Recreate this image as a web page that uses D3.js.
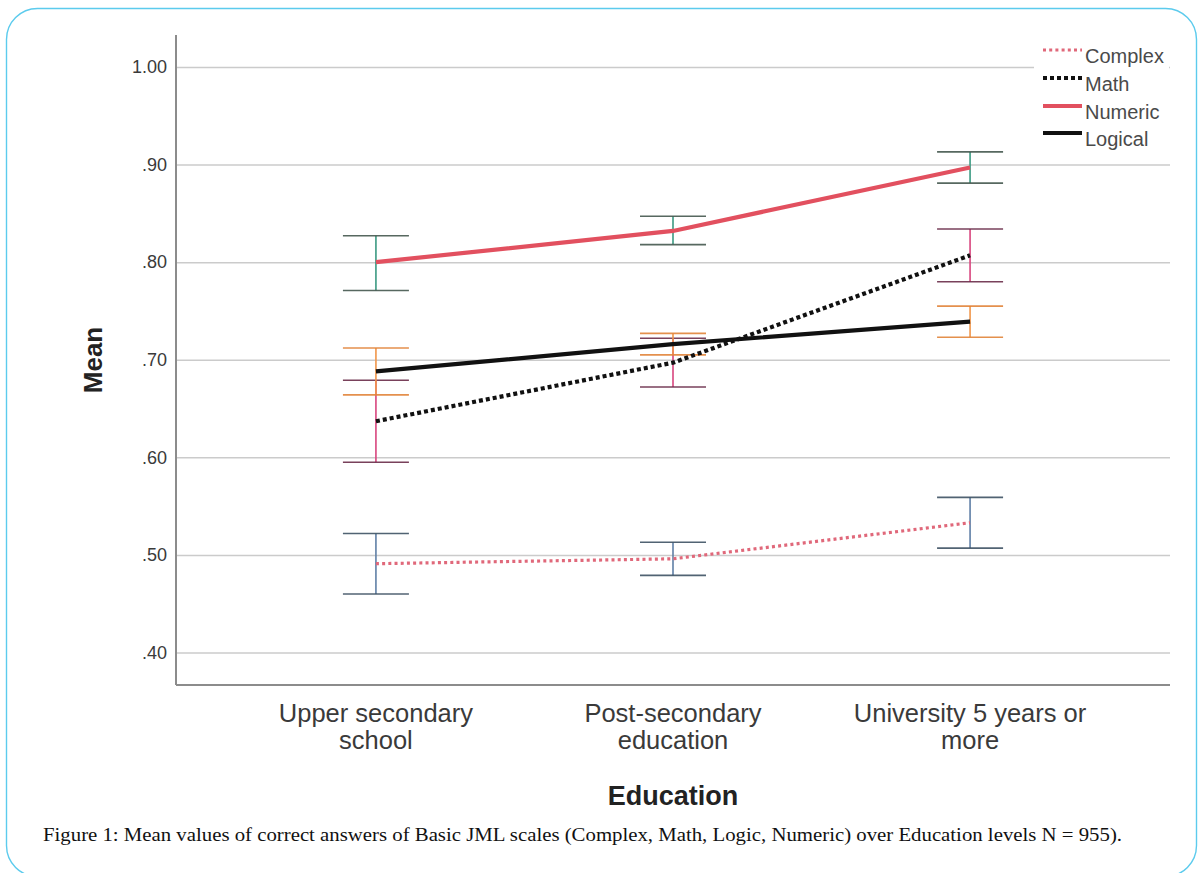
<!DOCTYPE html>
<html>
<head>
<meta charset="utf-8">
<script src="https://cdn.jsdelivr.net/npm/d3@7"></script>
<style>
  html, body { margin: 0; padding: 0; background: #fff; }
  svg { display: block; }
</style>
</head>
<body>
<svg id="chart" width="1201" height="873"></svg>
<script>
// Education levels on the x axis
const categories = [
  ["Upper secondary", "school"],
  ["Post-secondary", "education"],
  ["University 5 years or", "more"]
];
const categoryKeys = ["upper", "post", "univ"];

// Series means and 95% CI bounds, one value per education level
const complexMean = [0.491, 0.496, 0.533];
const complexLow  = [0.460, 0.479, 0.507];
const complexHigh = [0.522, 0.513, 0.559];

const mathMean = [0.637, 0.697, 0.807];
const mathLow  = [0.595, 0.672, 0.780];
const mathHigh = [0.679, 0.722, 0.834];

const numericMean = [0.800, 0.832, 0.897];
const numericLow  = [0.771, 0.818, 0.881];
const numericHigh = [0.827, 0.847, 0.913];

const logicalMean = [0.688, 0.716, 0.739];
const logicalLow  = [0.664, 0.705, 0.723];
const logicalHigh = [0.712, 0.727, 0.755];

const seriesNames = ["Complex", "Math", "Numeric", "Logical"];

const yTicks = [0.4, 0.5, 0.6, 0.7, 0.8, 0.9, 1.0];
const yTickLabels = [".40", ".50", ".60", ".70", ".80", ".90", "1.00"];

const captionText = "Figure 1: Mean values of correct answers of Basic JML scales (Complex, Math, Logic, Numeric) over Education levels N = 955).";

// ---- styling per series ----
const styles = {
  Complex: { stroke: "#e0687a", width: 3.2, dash: "3,3.2", cap: "butt",
             err: "#5f7fa6", errCap: "#3f5364" },
  Math:    { stroke: "#111", width: 4.2, dash: "4,3", cap: "butt",
             err: "#d8457e", errCap: "#6b2d4a" },
  Numeric: { stroke: "#e2505f", width: 4.2, dash: null, cap: "butt",
             err: "#3b9a82", errCap: "#45584f" },
  Logical: { stroke: "#111", width: 4.2, dash: null, cap: "butt",
             err: "#f0964a", errCap: "#e2843a" }
};

const series = [
  { name: "Complex", mean: complexMean, low: complexLow, high: complexHigh },
  { name: "Math",    mean: mathMean,    low: mathLow,    high: mathHigh },
  { name: "Numeric", mean: numericMean, low: numericLow, high: numericHigh },
  { name: "Logical", mean: logicalMean, low: logicalLow, high: logicalHigh }
];

const svg = d3.select("#chart");

// outer rounded frame
svg.append("rect")
  .attr("x", 6.5).attr("y", 8.5)
  .attr("width", 1190).attr("height", 868)
  .attr("rx", 31).attr("ry", 31)
  .attr("fill", "none")
  .attr("stroke", "#5ccbed")
  .attr("stroke-width", 1.4);

// plot frame
const frame = { left: 176, right: 1170, top: 35, bottom: 685 };

const x = d3.scalePoint()
  .domain(categoryKeys)
  .range([frame.left, frame.right])
  .padding(0.673);

const y = d3.scaleLinear()
  .domain([0.4, 1.0])
  .range([652.5, 67]);

// gridlines + tick labels
const yAxis = d3.axisLeft(y)
  .tickValues(yTicks)
  .tickSize(-(frame.right - frame.left))
  .tickPadding(9)
  .tickFormat((d, i) => yTickLabels[i]);

const gy = svg.append("g")
  .attr("transform", `translate(${frame.left},0)`)
  .call(yAxis);
gy.select(".domain").remove();
gy.selectAll(".tick line")
  .attr("stroke", "#cbcbcb")
  .attr("stroke-width", 1.5);
gy.selectAll(".tick text")
  .attr("fill", "#3a3a3a")
  .style("font-family", "'Liberation Sans', Arial, sans-serif")
  .style("font-size", "18px");

// axis lines
svg.append("line")
  .attr("x1", frame.left).attr("x2", frame.left)
  .attr("y1", frame.top).attr("y2", frame.bottom)
  .attr("stroke", "#8c8c8c").attr("stroke-width", 2);
svg.append("line")
  .attr("x1", frame.left).attr("x2", frame.right)
  .attr("y1", frame.bottom).attr("y2", frame.bottom)
  .attr("stroke", "#8c8c8c").attr("stroke-width", 2);

// x category labels, two lines each
const xLab = svg.append("g");
categoryKeys.forEach((k, i) => {
  categories[i].forEach((line, j) => {
    xLab.append("text")
      .attr("x", x(k))
      .attr("y", 722 + j * 27)
      .attr("text-anchor", "middle")
      .attr("fill", "#3a3a3a")
      .style("font-family", "'Liberation Sans', Arial, sans-serif")
      .style("font-size", "25.5px")
      .text(line);
  });
});

// axis titles
svg.append("text")
  .attr("x", x("post"))
  .attr("y", 805)
  .attr("text-anchor", "middle")
  .attr("fill", "#222")
  .style("font-family", "'Liberation Sans', Arial, sans-serif")
  .style("font-weight", "bold")
  .style("font-size", "27px")
  .text("Education");

svg.append("text")
  .attr("transform", "translate(102,360) rotate(-90)")
  .attr("text-anchor", "middle")
  .attr("fill", "#222")
  .style("font-family", "'Liberation Sans', Arial, sans-serif")
  .style("font-weight", "bold")
  .style("font-size", "26px")
  .text("Mean");

// error bars
const capHalf = 33;
const eb = svg.append("g");
series.forEach(s => {
  const st = styles[s.name];
  categoryKeys.forEach((k, i) => {
    const cx = x(k);
    eb.append("line")
      .attr("x1", cx).attr("x2", cx)
      .attr("y1", y(s.low[i])).attr("y2", y(s.high[i]))
      .attr("stroke", st.err).attr("stroke-width", 1.6);
    [s.low[i], s.high[i]].forEach(v => {
      eb.append("line")
        .attr("x1", cx - capHalf).attr("x2", cx + capHalf)
        .attr("y1", y(v)).attr("y2", y(v))
        .attr("stroke", st.errCap).attr("stroke-width", 1.6)
        .attr("opacity", 0.9);
    });
  });
});

// mean lines
const lineGen = d3.line()
  .x((d, i) => x(categoryKeys[i]))
  .y(d => y(d));

const order = ["Complex", "Logical", "Math", "Numeric"];
order.forEach(name => {
  const s = series.find(d => d.name === name);
  const st = styles[name];
  svg.append("path")
    .datum(s.mean)
    .attr("d", lineGen)
    .attr("fill", "none")
    .attr("stroke", st.stroke)
    .attr("stroke-width", st.width)
    .attr("stroke-linecap", st.cap)
    .attr("stroke-dasharray", st.dash);
});

// legend
const legend = svg.append("g");
legend.append("rect")
  .attr("x", 1034).attr("y", 38)
  .attr("width", 135).attr("height", 112)
  .attr("fill", "#fff");
const rowY = [50, 78, 106, 133];
seriesNames.forEach((name, i) => {
  const st = styles[name];
  legend.append("line")
    .attr("x1", 1043).attr("x2", 1082)
    .attr("y1", rowY[i]).attr("y2", rowY[i])
    .attr("stroke", st.stroke)
    .attr("stroke-width", st.width)
    .attr("stroke-dasharray", st.dash);
  legend.append("text")
    .attr("x", 1085)
    .attr("y", rowY[i] + 13)
    .attr("fill", "#4a4a4a")
    .style("font-family", "'Liberation Sans Narrow', 'Liberation Sans', Arial, sans-serif")
    .style("font-size", "20px")
    .text(name);
});

// caption
svg.append("text")
  .attr("x", 43)
  .attr("y", 841)
  .attr("fill", "#111")
  .attr("textLength", 1079)
  .attr("lengthAdjust", "spacingAndGlyphs")
  .style("font-family", "'Liberation Serif', 'Times New Roman', serif")
  .style("font-size", "19.5px")
  .text(captionText);
</script>
</body>
</html>
